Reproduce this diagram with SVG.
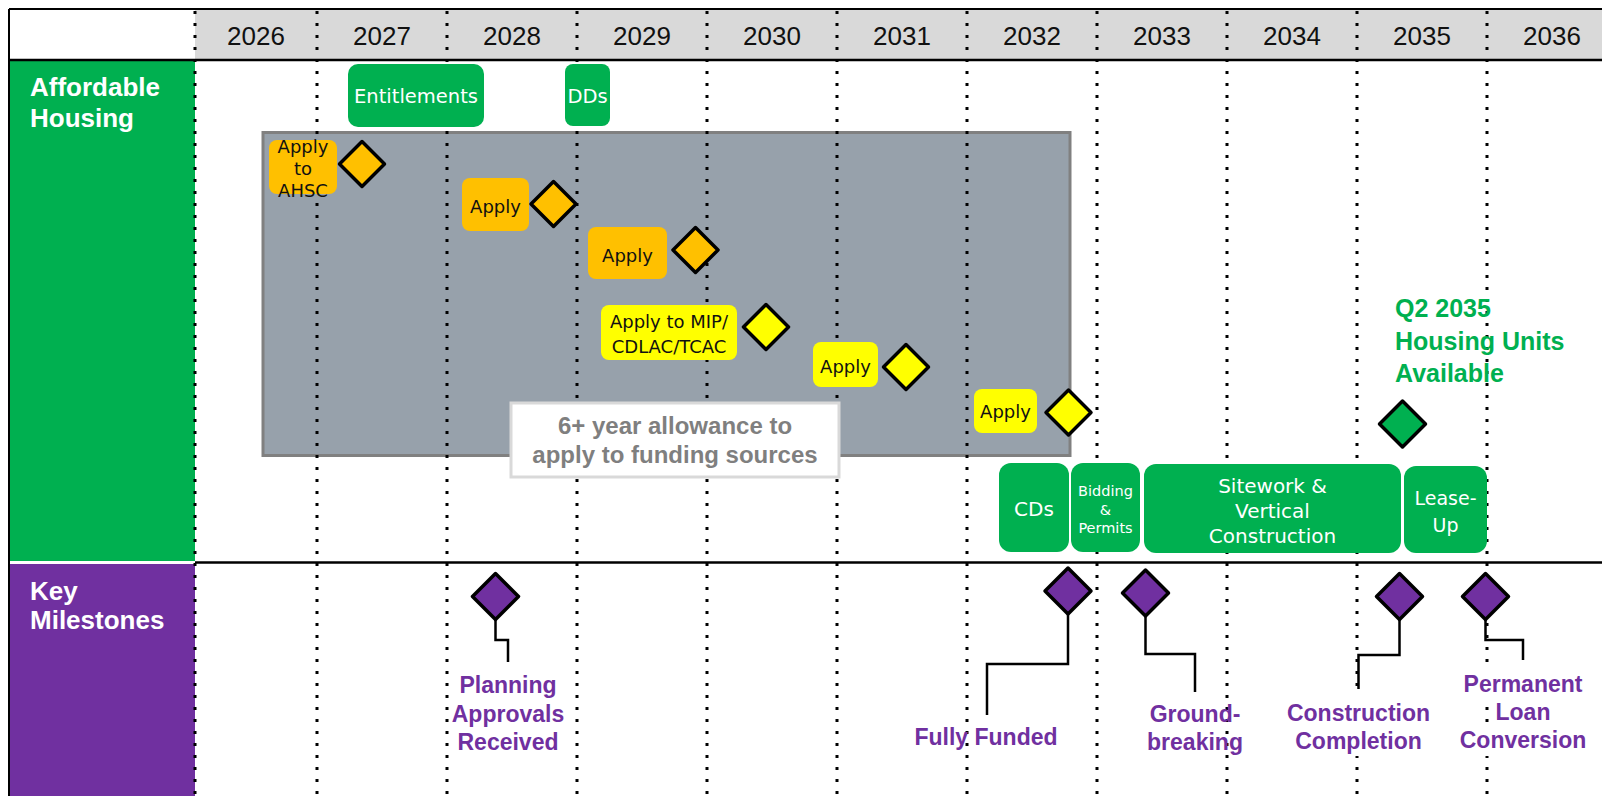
<svg xmlns="http://www.w3.org/2000/svg" width="1602" height="796" viewBox="0 0 1602 796">
<style>
.yr{font-family:"Liberation Sans",Arial,sans-serif;font-size:26px;fill:#111;text-anchor:middle}
.lane{font-family:"Liberation Sans",Arial,sans-serif;font-weight:bold;font-size:26px;fill:#fff}
.box{font-family:"DejaVu Sans","Liberation Sans",sans-serif;fill:#fff;text-anchor:middle}
.app{font-family:"DejaVu Sans","Liberation Sans",sans-serif;font-size:18px;fill:#111;text-anchor:middle}
.ms{font-family:"Liberation Sans",Arial,sans-serif;font-weight:bold;font-size:23px;fill:#7030A0;text-anchor:middle}
.hu{font-family:"Liberation Sans",Arial,sans-serif;font-weight:bold;font-size:25px;fill:#00B050}
.grid{stroke:#000;stroke-width:3;stroke-dasharray:3 9;fill:none}
.dia{stroke:#000;stroke-width:3.5;stroke-linejoin:round}
.conn{stroke:#000;stroke-width:2.5;fill:none}
.gbox{fill:#00B050}
.org{fill:#FFC000}
.yel{fill:#FFFF00}
</style>
<rect width="1602" height="796" fill="#fff"/>
<g id="header">
<rect x="195" y="9" width="1407" height="51" fill="#D9D9D9"/>
<text class="yr" x="256" y="45">2026</text>
<text class="yr" x="382" y="45">2027</text>
<text class="yr" x="512" y="45">2028</text>
<text class="yr" x="642" y="45">2029</text>
<text class="yr" x="772" y="45">2030</text>
<text class="yr" x="902" y="45">2031</text>
<text class="yr" x="1032" y="45">2032</text>
<text class="yr" x="1162" y="45">2033</text>
<text class="yr" x="1292" y="45">2034</text>
<text class="yr" x="1422" y="45">2035</text>
<text class="yr" x="1552" y="45">2036</text>
</g>
<g id="lane-affordable">
<rect x="9" y="61" width="186" height="500" fill="#00B050"/>
<text class="lane" x="30" y="96">Affordable</text>
<text class="lane" x="30" y="127">Housing</text>
</g>
<g id="lane-milestones">
<rect x="9" y="564" width="186" height="232" fill="#7030A0"/>
<text class="lane" x="30" y="600">Key</text>
<text class="lane" x="30" y="629">Milestones</text>
</g>
<g id="frame" stroke="#000" fill="none">
<line x1="9" y1="9" x2="1602" y2="9" stroke-width="2"/>
<line x1="9" y1="9" x2="9" y2="796" stroke-width="2"/>
<line x1="9" y1="60" x2="1602" y2="60" stroke-width="2.5"/>
<line x1="195" y1="562.5" x2="1602" y2="562.5" stroke-width="2.5"/>
</g>
<g id="funding-window">
<rect x="263" y="132.5" width="807" height="323" fill="#97A1AB" stroke="#808080" stroke-width="3"/>
</g>
<g id="gridlines">
<path class="grid" d="M195 11V796M317 11V796M447 11V796M577 11V796M707 11V796M837 11V796M967 11V796M1097 11V796M1227 11V796M1357 11V796M1487 11V796"/>
</g>
<g id="entitlements">
<rect class="gbox" x="348" y="64" width="136" height="63" rx="10"/>
<text class="box" x="416" y="103" font-size="19.5">Entitlements</text>
</g>
<g id="dds">
<rect class="gbox" x="565" y="64" width="45" height="62" rx="8"/>
<text class="box" x="587.5" y="103" font-size="19.5">DDs</text>
</g>
<g id="apply-ahsc">
<rect class="org" x="269" y="140" width="68" height="54" rx="8"/>
<text class="app" x="303" y="153">Apply</text>
<text class="app" x="303" y="175">to</text>
<text class="app" x="303" y="197">AHSC</text>
<polygon class="dia org" points="362,141.5 384.5,164 362,186.5 339.5,164"/>
</g>
<g id="apply-2">
<rect class="org" x="462" y="178" width="67" height="53" rx="8"/>
<text class="app" x="495.5" y="213">Apply</text>
<polygon class="dia org" points="553.5,181.5 576,204 553.5,226.5 531,204"/>
</g>
<g id="apply-3">
<rect class="org" x="588" y="227" width="79" height="52" rx="8"/>
<text class="app" x="627.5" y="262">Apply</text>
<polygon class="dia org" points="695.5,227.5 718,250 695.5,272.5 673,250"/>
</g>
<g id="apply-mip">
<rect class="yel" x="601" y="305" width="136" height="55" rx="8"/>
<text class="app" x="669" y="328">Apply to MIP/</text>
<text class="app" x="669" y="353">CDLAC/TCAC</text>
<polygon class="dia yel" points="766,304.5 788.5,327 766,349.5 743.5,327"/>
</g>
<g id="apply-5">
<rect class="yel" x="813" y="342" width="65" height="45" rx="8"/>
<text class="app" x="845.5" y="373">Apply</text>
<polygon class="dia yel" points="906,344.5 928.5,367 906,389.5 883.5,367"/>
</g>
<g id="apply-6">
<rect class="yel" x="974" y="389" width="63" height="44" rx="8"/>
<text class="app" x="1005.5" y="418">Apply</text>
<polygon class="dia yel" points="1068.5,390 1091,412.5 1068.5,435 1046,412.5"/>
</g>
<g id="allowance-note">
<rect x="511" y="403" width="328" height="74" fill="#fff" stroke="#D9D9D9" stroke-width="3"/>
<text x="675" y="434" font-family="Liberation Sans,Arial,sans-serif" font-weight="bold" font-size="24" fill="#7F7F7F" text-anchor="middle">6+ year allowance to</text>
<text x="675" y="463" font-family="Liberation Sans,Arial,sans-serif" font-weight="bold" font-size="24" fill="#7F7F7F" text-anchor="middle">apply to funding sources</text>
</g>
<g id="cds">
<rect class="gbox" x="999" y="463" width="70" height="89" rx="12"/>
<text class="box" x="1034" y="516" font-size="20">CDs</text>
</g>
<g id="bidding">
<rect class="gbox" x="1071" y="463" width="69" height="89" rx="12"/>
<text class="box" x="1105.5" y="496" font-size="14.5">Bidding</text>
<text class="box" x="1105.5" y="515" font-size="14.5">&amp;</text>
<text class="box" x="1105.5" y="533" font-size="14.5">Permits</text>
</g>
<g id="sitework">
<rect class="gbox" x="1144" y="464" width="257" height="89" rx="12"/>
<text class="box" x="1272.5" y="493" font-size="20">Sitework &amp;</text>
<text class="box" x="1272.5" y="518" font-size="20">Vertical</text>
<text class="box" x="1272.5" y="543" font-size="20">Construction</text>
</g>
<g id="lease-up">
<rect class="gbox" x="1404" y="466" width="83" height="87" rx="12"/>
<text class="box" x="1445.5" y="505" font-size="19">Lease-</text>
<text class="box" x="1445.5" y="532" font-size="19">Up</text>
</g>
<g id="housing-available">
<text class="hu" x="1395" y="317">Q2 2035</text>
<text class="hu" x="1395" y="349.5">Housing Units</text>
<text class="hu" x="1395" y="382">Available</text>
<polygon class="dia" fill="#00B050" points="1402.5,401 1425.5,424 1402.5,447 1379.5,424"/>
</g>
<g id="connectors">
<path class="conn" d="M495.5 619.5V640H508V662"/>
<path class="conn" d="M1068 614V664H987V715"/>
<path class="conn" d="M1145.5 616V654H1195V692"/>
<path class="conn" d="M1399.5 619.5V655H1358.5V689"/>
<path class="conn" d="M1485.5 619.5V640H1523V660"/>
</g>
<g id="ms-planning">
<polygon class="dia" fill="#7030A0" points="495.5,573.5 518.5,596.5 495.5,619.5 472.5,596.5"/>
<text class="ms" x="508" y="693">Planning</text>
<text class="ms" x="508" y="721.5">Approvals</text>
<text class="ms" x="508" y="750">Received</text>
</g>
<g id="ms-funded">
<polygon class="dia" fill="#7030A0" points="1068,568 1091,591 1068,614 1045,591"/>
<text class="ms" x="986" y="745">Fully Funded</text>
</g>
<g id="ms-groundbreaking">
<polygon class="dia" fill="#7030A0" points="1145.5,570 1168.5,593 1145.5,616 1122.5,593"/>
<text class="ms" x="1195" y="721.5">Ground-</text>
<text class="ms" x="1195" y="749.5">breaking</text>
</g>
<g id="ms-completion">
<polygon class="dia" fill="#7030A0" points="1399.5,573.5 1422.5,596.5 1399.5,619.5 1376.5,596.5"/>
<rect x="1286" y="692" width="146" height="64" fill="#fff"/>
<text class="ms" x="1358.5" y="720.5">Construction</text>
<text class="ms" x="1358.5" y="748.5">Completion</text>
</g>
<g id="ms-conversion">
<polygon class="dia" fill="#7030A0" points="1485.5,573.5 1508.5,596.5 1485.5,619.5 1462.5,596.5"/>
<rect x="1460" y="664" width="127" height="34" fill="#fff"/>
<rect x="1460" y="726" width="128" height="30" fill="#fff"/>
<text class="ms" x="1523" y="691.5">Permanent</text>
<text class="ms" x="1523" y="719.5">Loan</text>
<text class="ms" x="1523" y="748">Conversion</text>
</g>
</svg>
